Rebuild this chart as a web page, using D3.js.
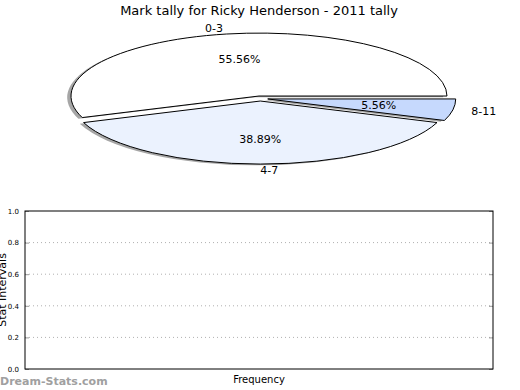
<!DOCTYPE html>
<html>
<head>
<meta charset="utf-8">
<script src="https://cdn.jsdelivr.net/npm/d3@7"></script>
<style>
    body { margin: 0; background: #fff; }
    svg { font-family: "DejaVu Sans", sans-serif; }
</style>
</head>
<body>
<svg id="chart" width="520" height="390"></svg>
<script>
// pie data
var categories = ["0-3", "4-7", "8-11"];
var tallies = [10, 7, 1];
var sliceColors = ["#ffffff", "#ebf2fe", "#c6d9fd"];

// empty bar panel
var yTicks = [0, 0.2, 0.4, 0.6, 0.8, 1.0];
var gridTicks = [0.2, 0.4, 0.6, 0.8];

var cfg = {
    cx: 260.3, cy: 98.5, rx: 188, ry: 63,
    explode: 0.04, shadow: [-3.8, 1.3],
    plot: { left: 25, right: 493, top: 211, bottom: 369 }
};

var svg = d3.select("#chart");

function drawPie() {
    var total = d3.sum(tallies);
    var pie = d3.pie().sort(null)
        .startAngle(Math.PI / 2)
        .endAngle(Math.PI / 2 - 2 * Math.PI);
    var arcs = pie(tallies);
    var arc = d3.arc().innerRadius(0).outerRadius(1);

    // slice centre after explode
    function offset(d) {
        var a = (d.startAngle + d.endAngle) / 2;
        return [cfg.cx + cfg.explode * cfg.rx * Math.sin(a),
                cfg.cy - cfg.explode * cfg.ry * Math.cos(a)];
    }

    var g = svg.append("g");

    // shadows go behind every wedge
    arcs.forEach(function (d) {
        var o = offset(d);
        g.append("path")
            .attr("d", arc(d))
            .attr("transform", "translate(" + (o[0] + cfg.shadow[0]) + "," + (o[1] + cfg.shadow[1]) + ") scale(" + cfg.rx + "," + cfg.ry + ")")
            .attr("fill", "#4d4d4d")
            .attr("fill-opacity", 0.5);
    });

    arcs.forEach(function (d, i) {
        var o = offset(d);
        g.append("path")
            .attr("d", arc(d))
            .attr("transform", "translate(" + o[0] + "," + o[1] + ") scale(" + cfg.rx + "," + cfg.ry + ")")
            .attr("fill", sliceColors[i])
            .attr("stroke", "#000")
            .attr("stroke-width", 1)
            .attr("vector-effect", "non-scaling-stroke");

        var a = (d.startAngle + d.endAngle) / 2;
        var sx = Math.sin(a), sy = -Math.cos(a);

        // category label outside
        var lx = o[0] + 1.1 * cfg.rx * sx;
        var ly = o[1] + 1.1 * cfg.ry * sy;
        g.append("text")
            .attr("x", lx)
            .attr("y", ly)
            .attr("dy", "0.35em")
            .attr("text-anchor", sx > 0.001 || Math.abs(sx) < 0.001 ? "start" : "end")
            .style("font-size", "11px")
            .text(categories[i]);

        // percentage inside
        g.append("text")
            .attr("x", o[0] + 0.6 * cfg.rx * sx)
            .attr("y", o[1] + 0.6 * cfg.ry * sy)
            .attr("dy", "0.35em")
            .attr("text-anchor", "middle")
            .style("font-size", "11px")
            .text((100 * tallies[i] / total).toFixed(2) + "%");
    });

    svg.append("text")
        .attr("x", 259)
        .attr("y", 15)
        .attr("text-anchor", "middle")
        .style("font-size", "13px")
        .text("Mark tally for Ricky Henderson - 2011 tally");
}

function drawPanel() {
    var p = cfg.plot;
    var y = d3.scaleLinear().domain([0, 1]).range([p.bottom, p.top]);
    var g = svg.append("g");

    // dotted grid
    g.selectAll("line.grid")
        .data(gridTicks)
        .enter()
        .append("line")
        .attr("x1", p.left)
        .attr("x2", p.right)
        .attr("y1", function (d) { return y(d); })
        .attr("y2", function (d) { return y(d); })
        .attr("stroke", "#b0b0b0")
        .attr("stroke-width", 1)
        .attr("stroke-dasharray", "1,3");

    // left axis, ticks pointing inward
    var axisL = d3.axisLeft(y).tickValues(yTicks).tickSizeInner(-4).tickSizeOuter(0)
        .tickPadding(6).tickFormat(d3.format(".1f"));
    g.append("g")
        .attr("transform", "translate(" + p.left + ",0)")
        .call(axisL)
        .call(function (s) {
            s.select(".domain").remove();
            s.selectAll("line").attr("stroke", "#999");
            s.selectAll("text").style("font-size", "7px").style("font-family", "DejaVu Sans");
        });

    var axisR = d3.axisRight(y).tickValues(yTicks).tickSizeInner(-4).tickSizeOuter(0).tickFormat("");
    g.append("g")
        .attr("transform", "translate(" + p.right + ",0)")
        .call(axisR)
        .call(function (s) {
            s.select(".domain").remove();
            s.selectAll("line").attr("stroke", "#999");
        });

    g.append("rect")
        .attr("x", p.left)
        .attr("y", p.top)
        .attr("width", p.right - p.left)
        .attr("height", p.bottom - p.top)
        .attr("fill", "none")
        .attr("stroke", "#000")
        .attr("stroke-width", 1);

    svg.append("text")
        .attr("x", (p.left + p.right) / 2)
        .attr("y", 383)
        .attr("text-anchor", "middle")
        .style("font-size", "10px")
        .text("Frequency");

    // label is partly cut by the left edge, as in the original
    svg.append("text")
        .attr("transform", "translate(6," + (p.top + p.bottom) / 2 + ") rotate(-90)")
        .attr("text-anchor", "middle")
        .style("font-size", "11px")
        .text("Stat Intervals");

    svg.append("text")
        .attr("x", 0)
        .attr("y", 385)
        .style("font-size", "11px")
        .style("font-weight", "bold")
        .attr("fill", "#a0a0a0")
        .text("Dream-Stats.com");
}

drawPie();
drawPanel();
</script>
</body>
</html>
